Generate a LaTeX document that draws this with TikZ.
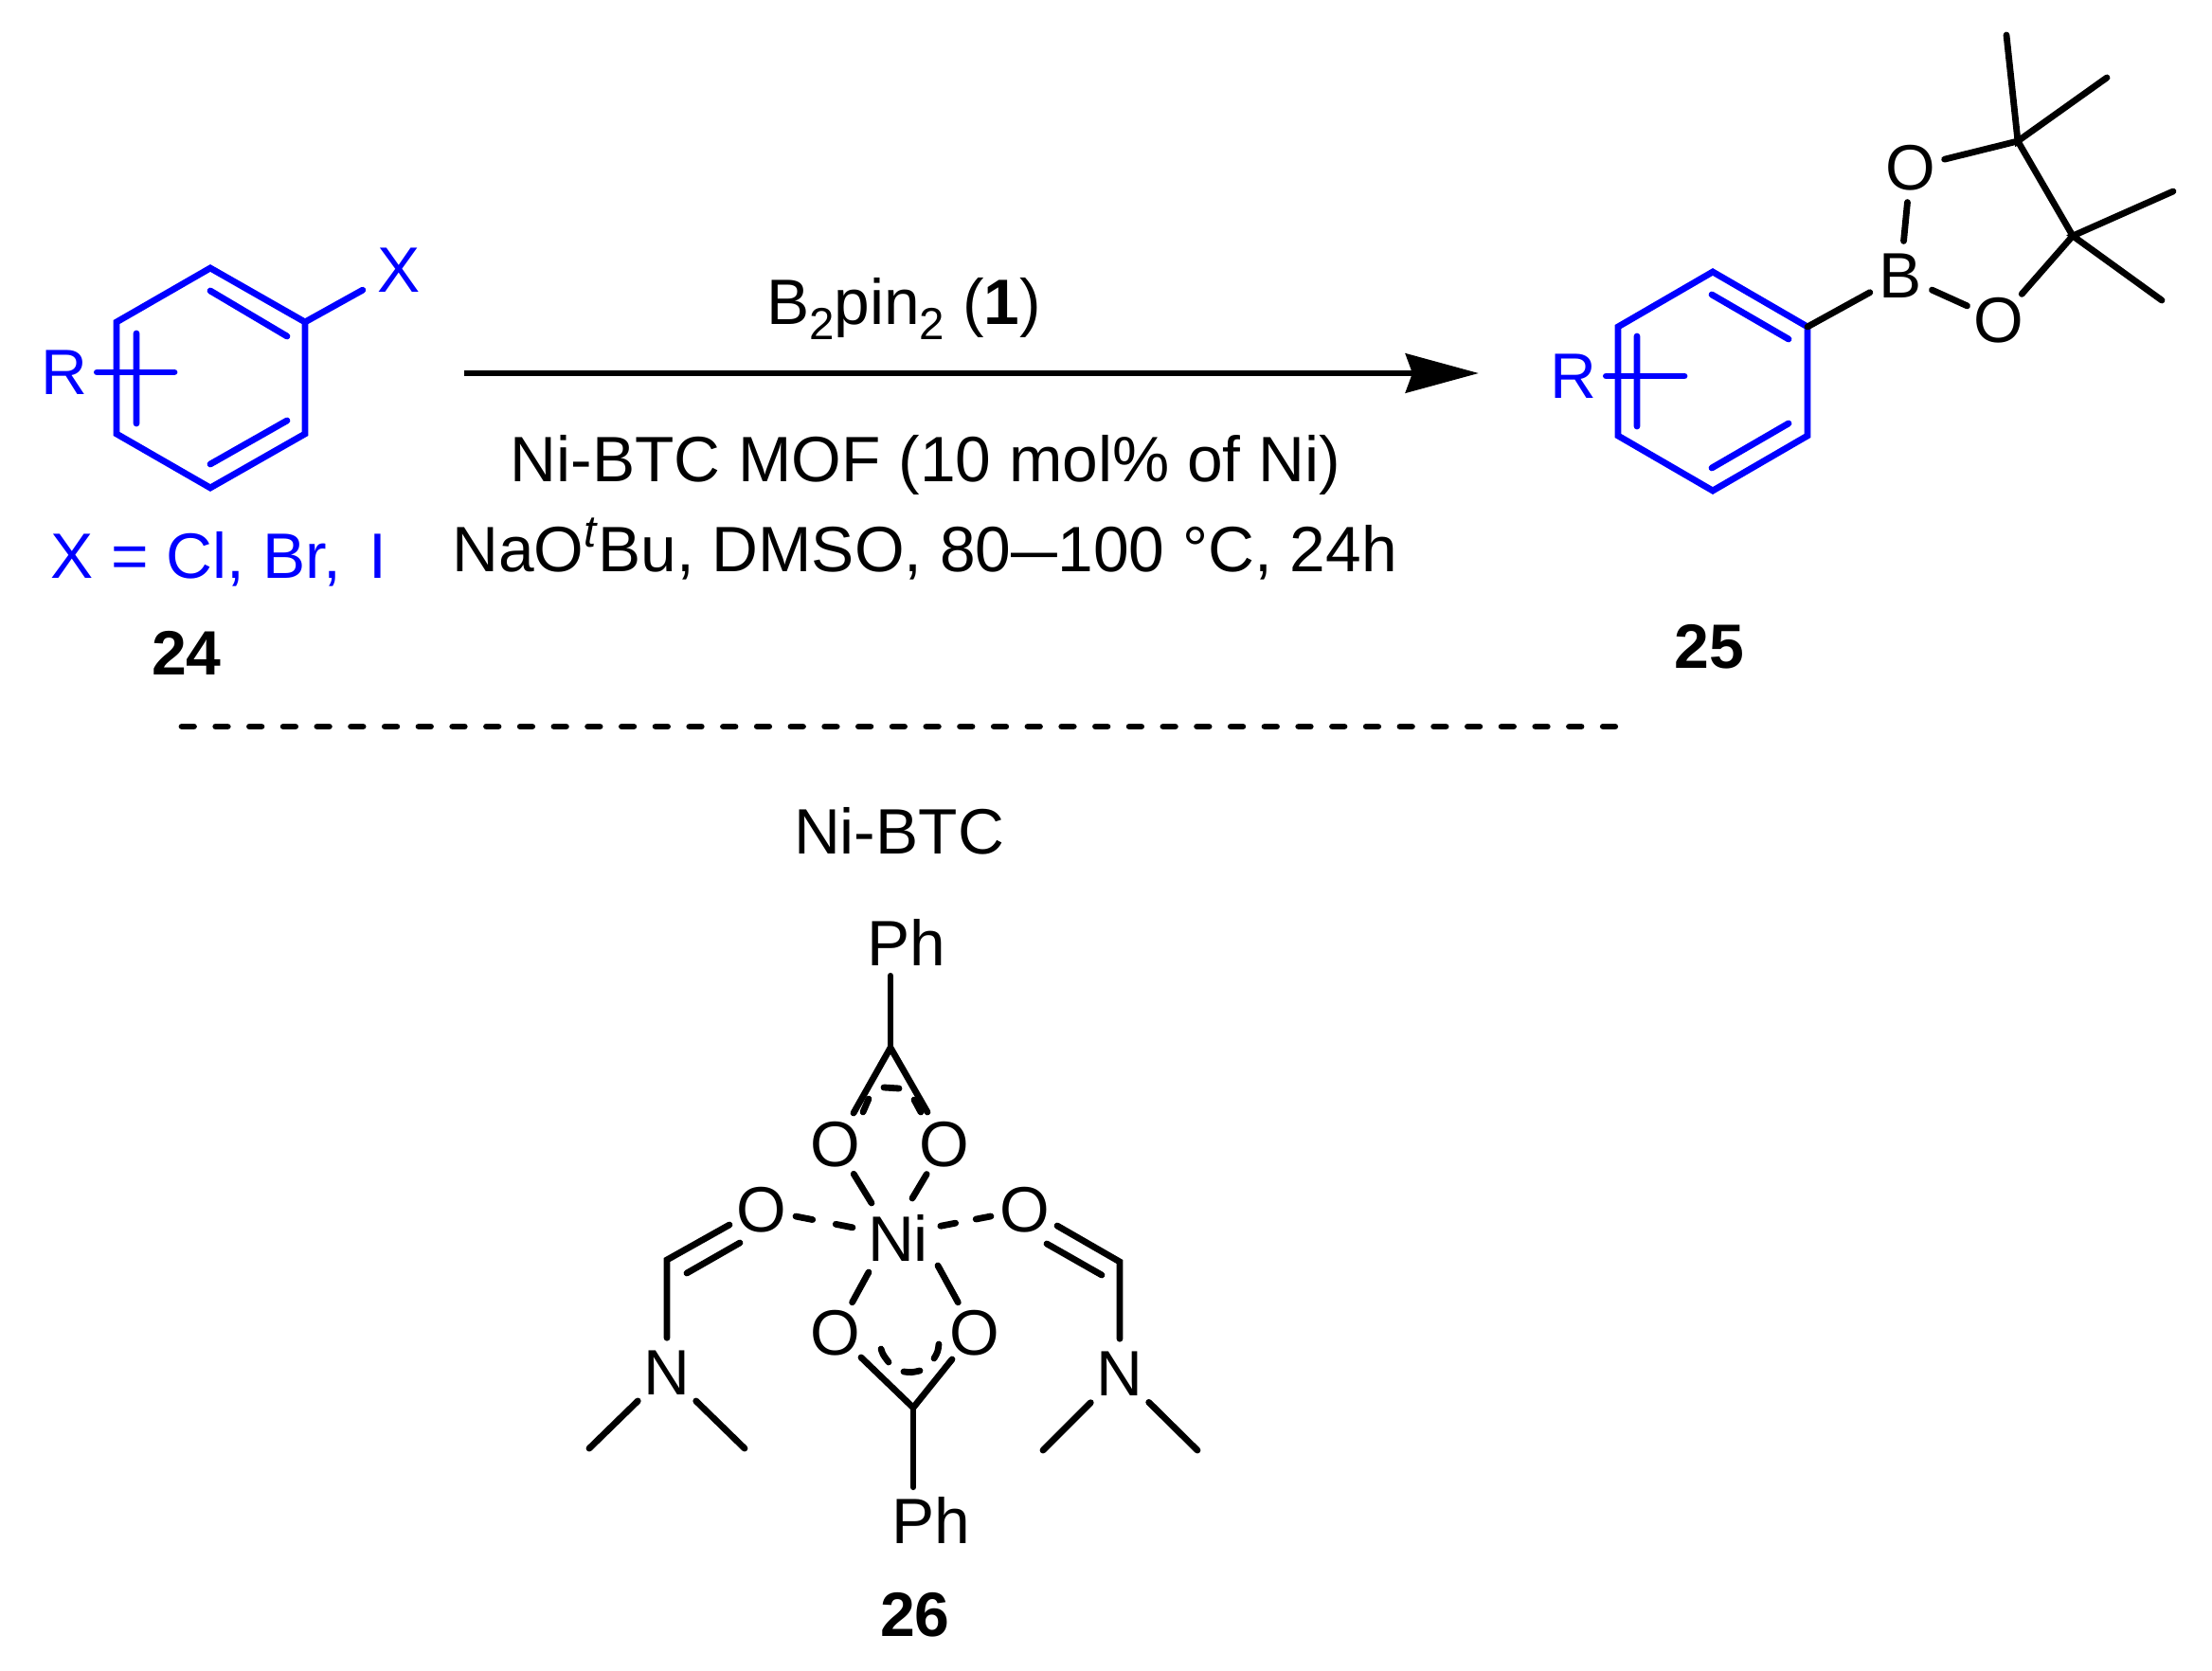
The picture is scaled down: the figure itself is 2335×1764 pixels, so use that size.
\documentclass[tikz,border=0pt]{standalone}
\usepackage{fontspec}
\setmainfont{Liberation Sans}
\usetikzlibrary{arrows.meta}
\definecolor{myblue}{RGB}{0,0,255}
\newcommand{\mysub}[1]{\raisebox{-.15cm}{\fontsize{13.5}{16}\selectfont #1}}
\tikzset{mybond/.style={line width=.068cm,line cap=round,line join=miter}}
\tikzset{mybluebond/.style={mybond,myblue}}
\tikzset{mynode/.style={inner sep=0,font=\fontsize{19.25}{24}\selectfont}}
\tikzset{myatom/.style={mynode,circle,minimum size=.72cm}}
\tikzset{mymetal/.style={mynode,circle,minimum size=.92cm}}
\tikzset{myamine/.style={mynode,rectangle,minimum width=.6cm,minimum height=.72cm}}
\tikzset{mylabel/.style={mynode,anchor=base}}
\tikzset{mynumber/.style={inner sep=0,font=\fontsize{18.8}{24}\selectfont\bfseries}}
\tikzset{mydash/.style={mybond,dash pattern=on .18cm off .25cm}}

\begin{document}
\begin{tikzpicture}[x=.01cm,y=-.01cm]
	\useasboundingbox (0,0) rectangle (2335,1764);

	% aryl halide
	\coordinate (a1) at (222,283); \coordinate (a2) at (322,340); \coordinate (a3) at (322,458);
	\coordinate (a4) at (222,515); \coordinate (a5) at (123,458); \coordinate (a6) at (123,340);
	\coordinate (a7) at (222,307); \coordinate (a8) at (303,355);
	\coordinate (a9) at (222,490); \coordinate (a10) at (303,444);
	\coordinate (a11) at (144,352); \coordinate (a12) at (144,447);
	\coordinate (a13) at (184,393);
	\node[myatom,myblue,minimum size=.86cm] (x1) at (421,285) {X};
	\node[myatom,myblue,minimum size=.66cm] (r1) at (68,393) {R};
	\draw[mybluebond] (a1) -- (a2) -- (a3) -- (a4) -- (a5) -- (a6) -- cycle;
	\draw[mybluebond] (a7) -- (a8) (a9) -- (a10) (a11) -- (a12);
	\draw[mybluebond] (a2) -- (x1);
	\draw[mybluebond] (r1) -- (a13);
	\node[mylabel,myblue] (halides) at (231,611) {X = Cl, Br,\, I};
	\node[mynumber] (n24) at (197,689) {24};

	% reaction arrow
	\coordinate (start) at (490,394);
	\coordinate (end) at (1561,394);
	\draw[line width=.068cm,-{Stealth[length=.77cm,width=.41cm,inset=.07cm]}] (start) -- (end);
	\node[mylabel] (reagent) at (954,343) {B\mysub{2}pin\mysub{2} (\textbf{1})};
	\node[mylabel] (catalyst) at (977,509) {Ni-BTC MOF (10 mol\% of Ni)};
	\node[mylabel] (conditions) at (976,604) {NaO\textsuperscript{\itshape t}Bu, DMSO, 80\scalebox{1.3}[1]{–}100 °C, 24h};

	% boronate ester
	\coordinate (b1) at (1808,287); \coordinate (b2) at (1908,345); \coordinate (b3) at (1908,460);
	\coordinate (b4) at (1808,518); \coordinate (b5) at (1708,460); \coordinate (b6) at (1708,345);
	\coordinate (b7) at (1807,311); \coordinate (b8) at (1888,358);
	\coordinate (b9) at (1807,494); \coordinate (b10) at (1888,447);
	\coordinate (b11) at (1728,355); \coordinate (b12) at (1728,450);
	\coordinate (b13) at (1778,397);
	\node[myatom,myblue,minimum size=.66cm] (r2) at (1661,397) {R};
	\draw[mybluebond] (b1) -- (b2) -- (b3) -- (b4) -- (b5) -- (b6) -- cycle;
	\draw[mybluebond] (b7) -- (b8) (b9) -- (b10) (b11) -- (b12);
	\draw[mybluebond] (r2) -- (b13);
	\node[myatom] (boron) at (2006,291) {B};
	\node[myatom] (o1) at (2017,177) {O};
	\node[myatom] (o2) at (2110,338) {O};
	\coordinate (c1) at (2130,149); \coordinate (c2) at (2188,249);
	\coordinate (m1) at (2118,37); \coordinate (m2) at (2224,82);
	\coordinate (m3) at (2294,202); \coordinate (m4) at (2282,317);
	\draw[mybond] (b2) -- (boron);
	\draw[mybond] (boron) -- (o1);
	\draw[mybond] (boron) -- (o2);
	\draw[mybond] (o1) -- (c1) -- (c2) -- (o2);
	\draw[mybond] (m1) -- (c1) -- (m2);
	\draw[mybond] (m3) -- (c2) -- (m4);
	\node[mynumber] (n25) at (1804,683) {25};

	\coordinate (d1) at (192,767);
	\coordinate (d2) at (1709,767);
	\draw[mybond,dash pattern=on .125cm off .232cm] (d1) -- (d2); % separator

	\node[mylabel] (nibtc) at (949,902) {Ni-BTC};

	% nickel complex
	\node[mymetal] (ni) at (948,1307) {Ni};
	\node[myatom] (o3) at (882,1208) {O};
	\node[myatom] (o4) at (997,1208) {O};
	\node[myatom] (o5) at (804,1277) {O};
	\node[myatom] (o6) at (1082,1277) {O};
	\node[myatom] (o7) at (882,1407) {O};
	\node[myatom] (o8) at (1029,1407) {O};
	\coordinate (t1) at (920,1270); \coordinate (t2) at (963,1265);
	\coordinate (t3) at (917,1343); \coordinate (t4) at (990,1336);
	\coordinate (t5) at (906,1297); \coordinate (t6) at (989,1295);
	\draw[mybond] (o3) -- (t1);
	\draw[mybond] (o4) -- (t2);
	\draw[mybond] (o7) -- (t3);
	\draw[mybond] (o8) -- (t4);
	\draw[mydash] (o5) -- (t5);
	\draw[mydash,dash pattern=on .16cm off .22cm] (o6) -- (t6);

	\node[mynode,inner sep=.1cm] (ph1) at (957,995) {Ph};
	\coordinate (c3) at (940,1106);
	\coordinate (c3a) at (901,1175); \coordinate (c3b) at (979,1174);
	\draw[mybond] (ph1.south -| c3) -- (c3);
	\draw[mybond] (c3a) -- (c3) -- (c3b);
	\draw[mybond] (911,1174) -- (917,1160) (933,1148) -- (949,1149) (965,1161) -- (972,1174);

	\node[mynode,inner sep=.1cm] (ph2) at (983,1605) {Ph};
	\coordinate (c4) at (964,1486);
	\coordinate (c4a) at (909,1433); \coordinate (c4b) at (1005,1435);
	\draw[mybond] (ph2.north -| c4) -- (c4);
	\draw[mybond] (c4a) -- (c4) -- (c4b);
	\draw[mybond] (930,1424) .. controls (932,1430) .. (938,1438);
	\draw[mybond] (954,1448) .. controls (962,1449) .. (971,1447);
	\draw[mybond] (991,1419) .. controls (990,1427) .. (986,1434);
	\node[mynumber] (n26) at (966,1705) {26};

	% left and right ligands
	\coordinate (c5) at (704,1330);
	\coordinate (e1) at (770,1293); \coordinate (e2) at (725,1344); \coordinate (e3) at (781,1312);
	\node[myamine] (n1) at (704,1449) {N};
	\coordinate (m5) at (622,1529); \coordinate (m6) at (786,1529);
	\draw[mybond] (e1) -- (c5) -- (n1);
	\draw[mybond] (e2) -- (e3);
	\draw[mybond] (m5) -- (n1) -- (m6);

	\coordinate (c6) at (1182,1332);
	\coordinate (f1) at (1116,1294); \coordinate (f2) at (1105,1313); \coordinate (f3) at (1163,1346);
	\node[myamine] (n2) at (1182,1450) {N};
	\coordinate (m7) at (1101,1531); \coordinate (m8) at (1264,1531);
	\draw[mybond] (f1) -- (c6) -- (n2);
	\draw[mybond] (f2) -- (f3);
	\draw[mybond] (m7) -- (n2) -- (m8);
\end{tikzpicture}
\end{document}
